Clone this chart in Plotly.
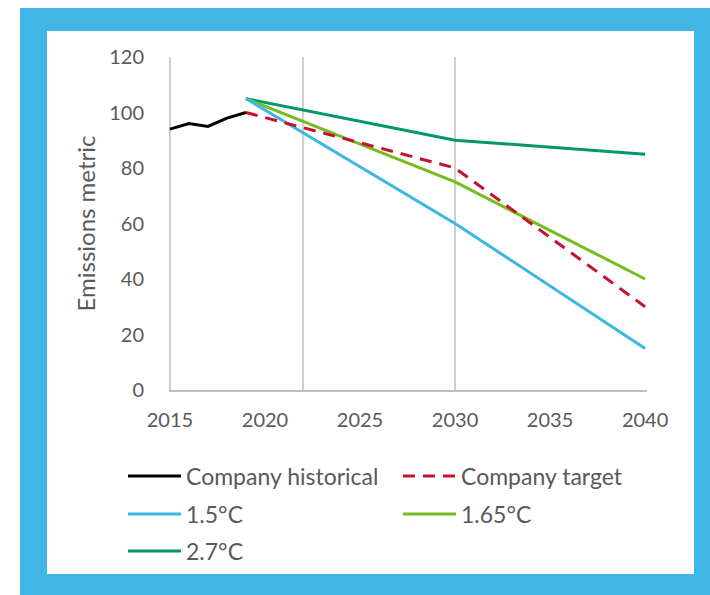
import plotly.graph_objects as go

# ---- data ----
hist_years = [2015, 2016, 2017, 2018, 2019]
hist_values = [94, 96, 95, 98, 100]
scen_years = [2019, 2030, 2040]
target_values = [100, 80, 30]
p15_values = [105, 60, 15]
p165_values = [105, 75, 40]
p27_values = [105, 90, 85]
tick_years = [2015, 2020, 2025, 2030, 2035, 2040]
y_ticks = [0, 20, 40, 60, 80, 100, 120]
marker_years = [2015, 2022, 2030]

# ---- geometry (pixels) ----
W, H = 710, 595
L, R, T, B = 169, 63, 57, 205
PW = W - L - R
PH = H - T - B

def px(x):
    return (x - L) / PW

def py(y):
    return (H - B - y) / PH

FONT = "Lato"
TXT = "#595959"
BORDER = "#41B6E6"

fig = go.Figure()
series = [
    ("Company historical", hist_years, hist_values, "#000000", "solid", "legend"),
    ("Company target", scen_years, target_values, "#C8102E", "12px,8px", "legend2"),
    ("1.5°C", scen_years, p15_values, "#3DB5E6", "solid", "legend3"),
    ("1.65°C", scen_years, p165_values, "#76BC21", "solid", "legend4"),
    ("2.7°C", scen_years, p27_values, "#00976B", "solid", "legend5"),
]
order = [4, 3, 2, 1, 0]
for i in order:
    name, xs, ys, col, dash, lg = series[i]
    fig.add_trace(go.Scatter(x=xs, y=ys, name=name, mode="lines",
                             line=dict(color=col, width=3, dash=dash),
                             legend=lg, showlegend=True))

shapes = [
    dict(type="rect", xref="paper", yref="paper", x0=px(20), x1=px(712), y0=py(597), y1=py(8),
         fillcolor=BORDER, line=dict(width=0), layer="below"),
    dict(type="rect", xref="paper", yref="paper", x0=px(47), x1=px(694), y0=py(574), y1=py(31),
         fillcolor="white", line=dict(width=0), layer="below"),
]
for yr in marker_years:
    shapes.append(dict(type="line", xref="x", yref="y", x0=yr, x1=yr, y0=0, y1=120,
                       line=dict(color="#BFBFBF", width=1.5), layer="below"))

legend_pos = {
    "legend": (123, 476),
    "legend2": (398, 476),
    "legend3": (123, 514),
    "legend4": (398, 514),
    "legend5": (123, 551),
}
legend_layout = {}
for k, (lx, ly) in legend_pos.items():
    legend_layout[k] = dict(x=lx / W, y=1 - ly / H, xref="container", yref="container",
                            xanchor="left", yanchor="middle", orientation="h",
                            itemwidth=53, bgcolor="rgba(0,0,0,0)",
                            font=dict(family=FONT, size=23, color=TXT))

fig.update_layout(
    width=W, height=H,
    margin=dict(l=L, r=R, t=T, b=B, autoexpand=False),
    paper_bgcolor="white", plot_bgcolor="rgba(0,0,0,0)",
    font=dict(family=FONT, size=20, color=TXT),
    shapes=shapes,
    xaxis=dict(range=[2014.95, 2040.1], tickvals=tick_years, ticktext=[str(t) for t in tick_years],
               showgrid=False, zeroline=False, showline=True, linecolor="#BFBFBF", linewidth=1.5,
               ticks="outside", ticklen=11, tickcolor="rgba(0,0,0,0)",
               tickfont=dict(family=FONT, size=20, color=TXT), fixedrange=True),
    yaxis=dict(range=[0, 120], tickvals=y_ticks, showgrid=False, zeroline=False, showline=False,
               ticks="outside", ticklen=20, tickcolor="rgba(0,0,0,0)",
               tickfont=dict(family=FONT, size=20, color=TXT),
               title=dict(text="Emissions metric", standoff=6,
                          font=dict(family=FONT, size=24, color=TXT)),
               fixedrange=True),
    **legend_layout,
)

fig.write_html("out.html", config={"displayModeBar": False},
               post_script="document.body.style.margin='0';")
